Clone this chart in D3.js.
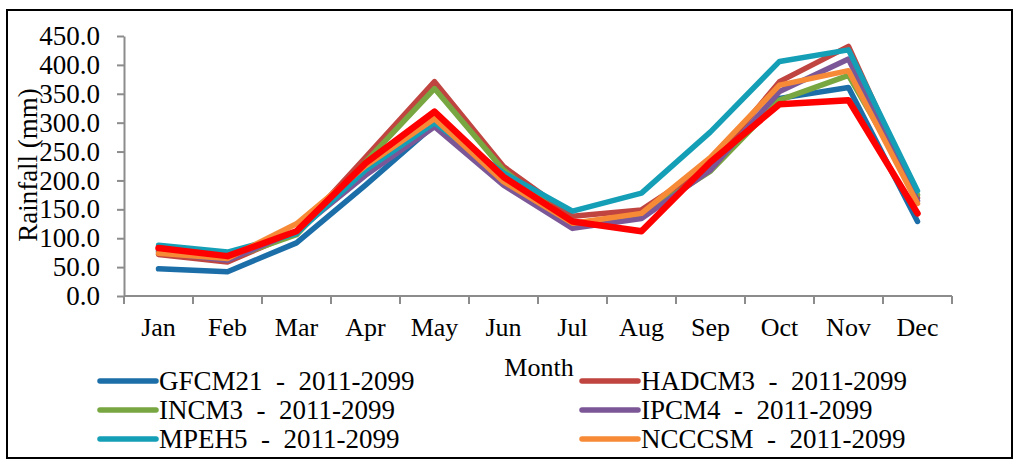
<!DOCTYPE html>
<html>
<head>
<meta charset="utf-8">
<script src="https://cdn.jsdelivr.net/npm/d3@7/dist/d3.min.js"></script>
<style>
  html, body { margin: 0; padding: 0; background: #fff; }
  svg { display: block; }
  text { font-family: "Liberation Serif", "Times New Roman", serif; fill: #000; }
</style>
</head>
<body>
<svg id="chart" width="1024" height="468"></svg>
<script>
const months = ["Jan","Feb","Mar","Apr","May","Jun","Jul","Aug","Sep","Oct","Nov","Dec"];
const yTicks = [0,50,100,150,200,250,300,350,400,450];

const gfcm21 = [47, 42, 92, 192, 296, 200, 125, 140, 225, 342, 361, 129];
const hadcm3 = [72, 59, 110, 240, 371, 224, 138, 149, 228, 371, 432, 170];
const incm3  = [78, 64, 106, 232, 359, 218, 125, 140, 216, 339, 382, 175];
const ipcm4  = [76, 62, 112, 209, 293, 192, 117, 134, 218, 354, 410, 165];
const mpeh5  = [88, 76, 108, 218, 300, 213, 147, 178, 284, 406, 426, 182];
const ncccsm = [74, 65, 125, 225, 307, 198, 126, 143, 240, 365, 390, 160];
const average = [83, 69, 112, 230, 319, 206, 129, 112, 232, 332, 339, 143];

const seriesNames = ["GFCM21  -  2011-2099","HADCM3  -  2011-2099","INCM3  -  2011-2099",
                     "IPCM4  -  2011-2099","MPEH5  -  2011-2099","NCCCSM  -  2011-2099"];
const seriesColors = ["#1c6ea8","#c0443f","#78a742","#7b5797","#149fb6","#f68a36"];
const seriesValues = [gfcm21, hadcm3, incm3, ipcm4, mpeh5, ncccsm];

const svg = d3.select("#chart");

// outer border
svg.append("rect").attr("x", 7).attr("y", 10).attr("width", 1005).attr("height", 448)
  .attr("fill", "none").attr("stroke", "#000").attr("stroke-width", 2);

const x = d3.scaleBand().domain(months).range([124, 952]);
const y = d3.scaleLinear().domain([0, 450]).range([296, 36]);
const cx = m => x(m) + x.bandwidth() / 2;

// y axis
const yAxis = svg.append("g").attr("transform", "translate(124,0)")
  .call(d3.axisLeft(y).tickValues(yTicks).tickSize(7).tickSizeOuter(0).tickPadding(17).tickFormat(d3.format(".1f")));
yAxis.select(".domain").attr("stroke", "#8c8c8c").attr("stroke-width", 2);
yAxis.selectAll(".tick line").attr("stroke", "#8c8c8c").attr("stroke-width", 2);
yAxis.selectAll("text").style("font-family", '"Liberation Serif", serif').style("font-size", "27px").attr("fill", "#000");

// x axis (ticks at category boundaries)
const xAxis = svg.append("g").attr("transform", "translate(0,296)");
xAxis.append("line").attr("x1", 124).attr("x2", 952).attr("y1", 0).attr("y2", 0)
  .attr("stroke", "#8c8c8c").attr("stroke-width", 2);
const bounds = months.map(m => x(m)).concat([x.range()[1]]);
xAxis.selectAll("line.tk").data(bounds).enter().append("line").attr("class", "tk")
  .attr("x1", d => d).attr("x2", d => d).attr("y1", 0).attr("y2", 8)
  .attr("stroke", "#8c8c8c").attr("stroke-width", 2);
xAxis.selectAll("text").data(months).enter().append("text")
  .attr("x", d => cx(d)).attr("y", 40).attr("text-anchor", "middle")
  .style("font-size", "26px").text(d => d);

// axis titles
svg.append("text").attr("transform", "translate(37,165) rotate(-90)")
  .attr("text-anchor", "middle")
  .style("font-size", "27px").text("Rainfall (mm)");
svg.append("text").attr("x", 539).attr("y", 376).attr("text-anchor", "middle")
  .style("font-size", "26px").text("Month");

// lines
const line = d3.line().x((d, i) => cx(months[i])).y(d => y(d));
seriesValues.forEach((vals, i) => {
  svg.append("path").datum(vals).attr("d", line).attr("fill", "none")
    .attr("stroke", seriesColors[i]).attr("stroke-width", 5.5)
    .attr("stroke-linejoin", "round").attr("stroke-linecap", "round");
});
svg.append("path").datum(average).attr("d", line).attr("fill", "none")
  .attr("stroke", "#ff0000").attr("stroke-width", 6.5)
  .attr("stroke-linejoin", "round").attr("stroke-linecap", "round");

// legend
const legendPos = [[100,381],[582,381],[100,410],[582,410],[100,439],[582,439]];
seriesNames.forEach((name, i) => {
  const [lx, ly] = legendPos[i];
  svg.append("line").attr("x1", lx).attr("x2", lx + 56).attr("y1", ly).attr("y2", ly)
    .attr("stroke", seriesColors[i]).attr("stroke-width", 5.5).attr("stroke-linecap", "round");
  svg.append("text").attr("x", lx + 59).attr("y", ly).attr("dominant-baseline", "central")
    .style("font-size", "27px").style("white-space", "pre").text(name);
});
</script>
</body>
</html>
